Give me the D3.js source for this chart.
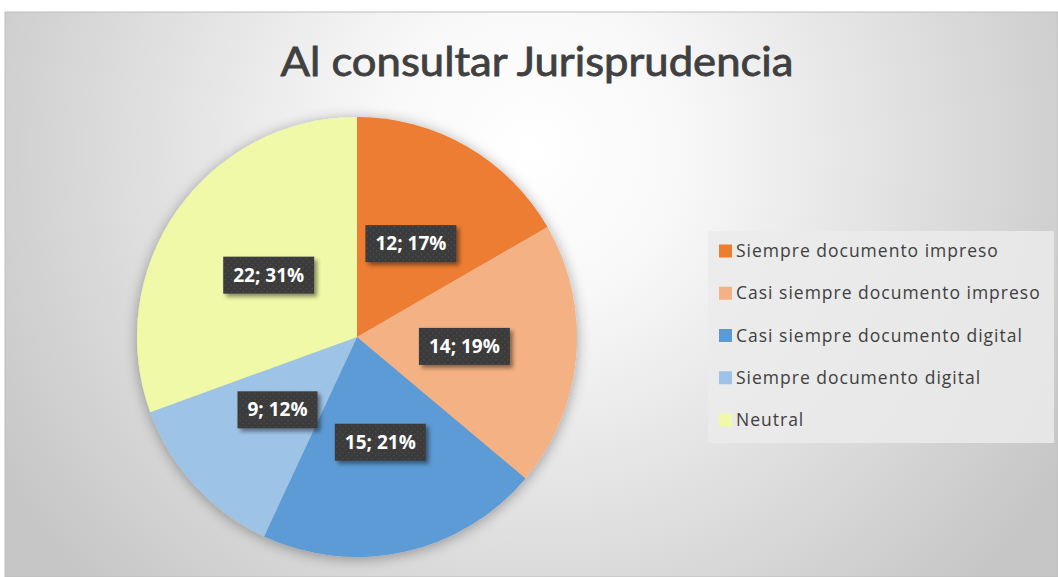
<!DOCTYPE html>
<html>
<head>
<meta charset="utf-8">
<script src="https://cdn.jsdelivr.net/npm/d3@7"></script>
<style>
  body { margin: 0; background: #fff; }
  svg { display: block; }
</style>
</head>
<body>
<div id="chart"></div>
<script>
// data
const categories = [
  "Siempre documento impreso",
  "Casi siempre documento impreso",
  "Casi siempre documento digital",
  "Siempre documento digital",
  "Neutral"
];
const values = [12, 14, 15, 9, 22];
const percentLabels = ["17%", "19%", "21%", "12%", "31%"];
const colors = ["#ED7D31", "#F4B183", "#5B9BD5", "#9DC3E6", "#F0F9A8"];
const title = "Al consultar Jurisprudencia";

const width = 1058, height = 577;
const frame = {x: 5, y: 12};
const cx = 357, cy = 337, radius = 220;

const svg = d3.select("#chart").append("svg")
  .attr("width", width)
  .attr("height", height);

const defs = svg.append("defs");

const bg = defs.append("radialGradient")
  .attr("id", "bg")
  .attr("gradientUnits", "userSpaceOnUse")
  .attr("cx", 530).attr("cy", 150).attr("r", 620);
bg.append("stop").attr("offset", "0%").attr("stop-color", "#ffffff");
bg.append("stop").attr("offset", "25%").attr("stop-color", "#f8f8f8");
bg.append("stop").attr("offset", "100%").attr("stop-color", "#c6c6c6");

const pieShadow = defs.append("filter").attr("id", "pieShadow")
  .attr("x", "-20%").attr("y", "-20%").attr("width", "140%").attr("height", "140%");
pieShadow.append("feGaussianBlur").attr("in", "SourceAlpha").attr("stdDeviation", 7);
pieShadow.append("feOffset").attr("dx", 0).attr("dy", 2).attr("result", "b");
pieShadow.append("feComponentTransfer").append("feFuncA").attr("type", "linear").attr("slope", 0.35);
const pm = pieShadow.append("feMerge");
pm.append("feMergeNode");
pm.append("feMergeNode").attr("in", "SourceGraphic");

const boxShadow = defs.append("filter").attr("id", "boxShadow")
  .attr("x", "-20%").attr("y", "-30%").attr("width", "150%").attr("height", "170%");
boxShadow.append("feGaussianBlur").attr("in", "SourceAlpha").attr("stdDeviation", 2);
boxShadow.append("feOffset").attr("dx", 3).attr("dy", 3);
boxShadow.append("feComponentTransfer").append("feFuncA").attr("type", "linear").attr("slope", 0.45);
const bm = boxShadow.append("feMerge");
bm.append("feMergeNode");
bm.append("feMergeNode").attr("in", "SourceGraphic");

const dots = defs.append("pattern").attr("id", "dots")
  .attr("patternUnits", "userSpaceOnUse").attr("width", 6).attr("height", 6);
dots.append("rect").attr("width", 6).attr("height", 6).attr("fill", "#3a3a3a");
dots.append("circle").attr("cx", 1.5).attr("cy", 1.5).attr("r", 0.7).attr("fill", "#555");
dots.append("circle").attr("cx", 4.5).attr("cy", 4.5).attr("r", 0.7).attr("fill", "#555");

// chart area
svg.append("rect")
  .attr("x", frame.x).attr("y", frame.y)
  .attr("width", width - frame.x).attr("height", height - frame.y)
  .attr("fill", "url(#bg)")
  .attr("stroke", "#bdbdbd").attr("stroke-width", 1);

svg.append("text")
  .attr("x", 537).attr("y", 76)
  .attr("text-anchor", "middle")
  .attr("font-family", "Lato, 'Open Sans', sans-serif")
  .attr("font-size", 40)
  .attr("textLength", 513)
  .attr("lengthAdjust", "spacingAndGlyphs")
  .attr("fill", "#404040")
  .attr("stroke", "#404040")
  .attr("stroke-width", 0.8)
  .text(title);

// pie
const pie = d3.pie().sort(null).value(d => d);
const arcs = pie(values);
const arc = d3.arc().innerRadius(0).outerRadius(radius);
const labelArc = d3.arc().innerRadius(radius * 0.49).outerRadius(radius * 0.49);

const g = svg.append("g").attr("transform", `translate(${cx},${cy})`);

g.append("g").attr("filter", "url(#pieShadow)")
  .selectAll("path")
  .data(arcs)
  .join("path")
  .attr("d", arc)
  .attr("fill", (d, i) => colors[i]);

const labels = g.append("g")
  .selectAll("g")
  .data(arcs)
  .join("g")
  .attr("transform", d => {
    const [x, y] = labelArc.centroid(d);
    return `translate(${x},${y})`;
  });

labels.append("text")
  .attr("text-anchor", "middle")
  .attr("dy", "0.35em")
  .attr("font-family", "'Open Sans', sans-serif")
  .attr("font-weight", "bold")
  .attr("font-size", 19)
  .attr("fill", "#ffffff")
  .text((d, i) => `${values[i]}; ${percentLabels[i]}`);

labels.each(function() {
  const t = d3.select(this).select("text");
  const b = t.node().getBBox();
  d3.select(this).insert("rect", "text")
    .attr("x", b.x - 10).attr("y", -18.5)
    .attr("width", b.width + 20).attr("height", 37)
    .attr("fill", "url(#dots)")
    .attr("filter", "url(#boxShadow)");
});

// legend
const legend = svg.append("g").attr("transform", "translate(708,231)");
legend.append("rect")
  .attr("width", 346).attr("height", 212)
  .attr("fill", "#ebebeb").attr("opacity", 0.85);

const ly = d3.scalePoint().domain(categories).range([20, 189]);

const item = legend.selectAll("g.item")
  .data(categories)
  .join("g")
  .attr("class", "item")
  .attr("transform", d => `translate(0,${ly(d)})`);

item.append("rect")
  .attr("x", 11).attr("y", -6.5)
  .attr("width", 13).attr("height", 13)
  .attr("fill", (d, i) => colors[i]);

item.append("text")
  .attr("x", 28).attr("dy", "0.35em")
  .attr("font-family", "'Open Sans', sans-serif")
  .attr("font-size", 17.5)
  .attr("letter-spacing", 1)
  .attr("fill", "#404040")
  .text(d => d);
</script>
</body>
</html>
